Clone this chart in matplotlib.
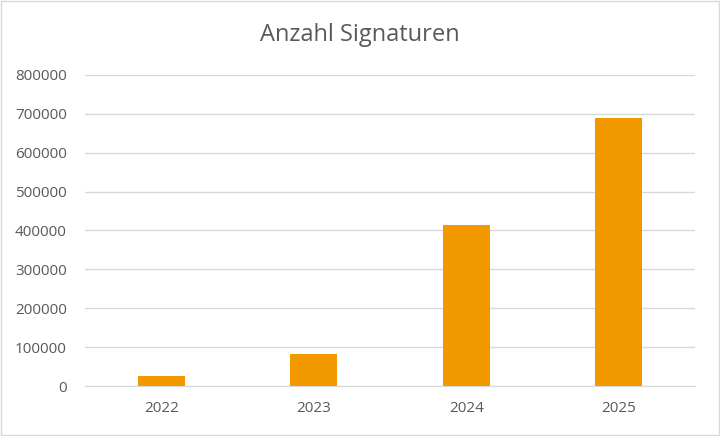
import matplotlib
matplotlib.use("Agg")
import matplotlib.pyplot as plt
from matplotlib.patches import Rectangle

years = ["2022", "2023", "2024", "2025"]
signatures = [26000, 83000, 413000, 689000]
y_ticks = [0, 100000, 200000, 300000, 400000, 500000, 600000, 700000, 800000]

plt.rcParams["font.family"] = ["Open Sans", "DejaVu Sans"]
text_color = "#595959"

fig = plt.figure(figsize=(7.2, 4.36), dpi=100)
fig.patches.append(Rectangle((0.002, 0.003), 0.996, 0.994, transform=fig.transFigure,
                             fill=False, edgecolor="#d9d9d9", linewidth=1))
ax = fig.add_axes([85 / 720, 1 - 386 / 436, 610 / 720, 311 / 436])

ax.bar(range(len(years)), signatures, width=0.31, color="#f29900", zorder=3)
ax.set_xlim(-0.5, len(years) - 0.5)
ax.set_ylim(0, 800000)
ax.set_yticks(y_ticks)
ax.set_yticklabels([str(v) for v in y_ticks])
ax.set_xticks(range(len(years)))
ax.set_xticklabels(years)
ax.grid(axis="y", color="#d9d9d9", linewidth=1, zorder=0)
for side in ["top", "right", "left"]:
    ax.spines[side].set_visible(False)
ax.spines["bottom"].set_color("#d9d9d9")
ax.tick_params(axis="both", length=0, colors=text_color, labelsize=11)
ax.tick_params(axis="y", pad=13)
ax.tick_params(axis="x", pad=11)

fig.text(0.5, 1 - 35 / 436, "Anzahl Signaturen", ha="center", va="center",
         fontsize=17, color=text_color)

fig.savefig("out.png", dpi=100)
